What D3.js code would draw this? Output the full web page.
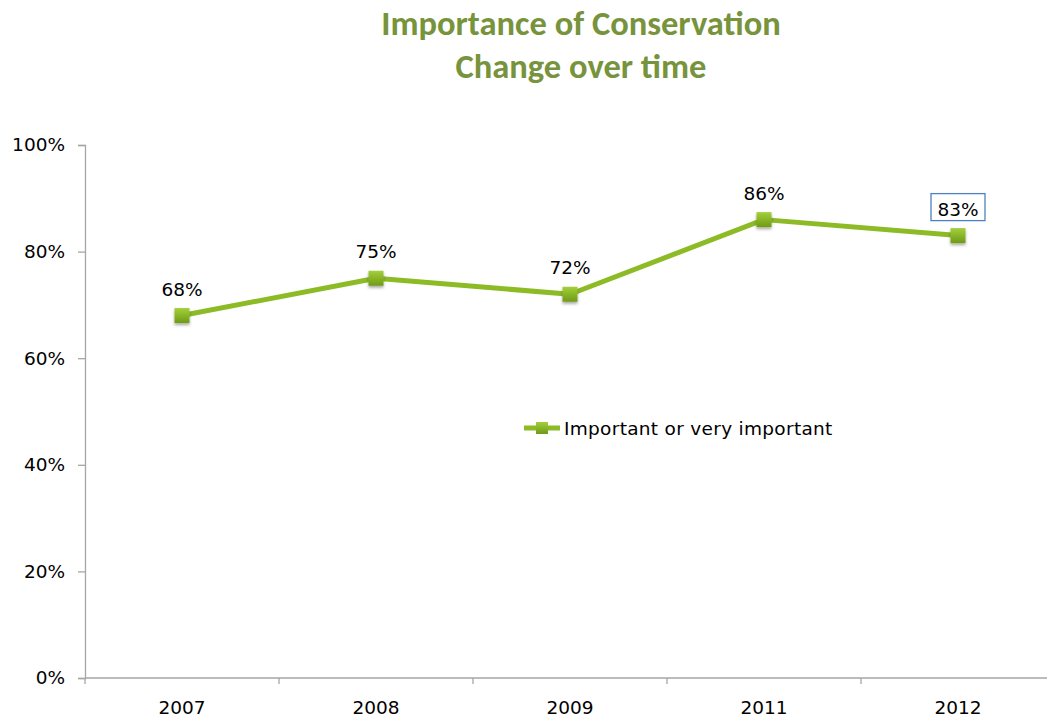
<!DOCTYPE html>
<html>
<head>
<meta charset="utf-8">
<script src="https://cdn.jsdelivr.net/npm/d3@7"></script>
<style>
  html, body { margin: 0; padding: 0; background: #fff; }
  svg { display: block; }
</style>
</head>
<body>
<svg id="chart" width="1047" height="720"></svg>
<script>
// Survey results: share answering "important or very important"
const years = ["2007", "2008", "2009", "2011", "2012"];
const importantShare = [68, 75, 72, 86, 83];
const yTicks = [0, 20, 40, 60, 80, 100];
const titleLines = ["Importance of Conservation", "Change over time"];
const seriesName = "Important or very important";

const svg = d3.select("#chart");
const plot = { left: 85, right: 1055, top: 145, bottom: 678 };

const x = d3.scaleBand().domain(years).range([plot.left, plot.right]);
const y = d3.scaleLinear().domain([0, 100]).range([plot.bottom, plot.top]);

const lineColor = "#8cbb26";
const axisColor = "#a6a6a6";
const textFont = "'DejaVu Sans', Verdana, sans-serif";
const fs = 18.5;

// marker gradient and shadow
const defs = svg.append("defs");
const grad = defs.append("linearGradient").attr("id", "mk").attr("x1", 0).attr("y1", 0).attr("x2", 0).attr("y2", 1);
grad.append("stop").attr("offset", "0%").attr("stop-color", "#a3d03a");
grad.append("stop").attr("offset", "100%").attr("stop-color", "#6f9a17");
const sh = defs.append("filter").attr("id", "shadow").attr("x", "-50%").attr("y", "-50%").attr("width", "200%").attr("height", "200%");
sh.append("feDropShadow").attr("dx", 0).attr("dy", 2).attr("stdDeviation", 1.5).attr("flood-color", "#000").attr("flood-opacity", 0.35);

// title
svg.append("g").selectAll("text").data(titleLines).join("text")
  .attr("x", 581).attr("y", (d, i) => 35 + i * 43)
  .attr("text-anchor", "middle")
  .attr("font-family", "Carlito, Lato, 'Open Sans', sans-serif")
  .attr("font-weight", 900).attr("font-size", 34.5)
  .attr("fill", "#77933c").text(d => d);

// y axis
const yAxis = svg.append("g").attr("transform", `translate(${plot.left},0)`)
  .call(d3.axisLeft(y).tickValues(yTicks).tickFormat(d => d + "%").tickSize(7).tickPadding(13));
yAxis.select(".domain").attr("stroke", axisColor).attr("stroke-width", 1.3);
yAxis.selectAll(".tick line").attr("stroke", axisColor).attr("stroke-width", 1.3);
yAxis.selectAll(".tick text").attr("font-family", textFont).attr("font-size", fs).attr("fill", "#000");

// x axis: ticks on band boundaries
const xAxisG = svg.append("g").attr("transform", `translate(0,${plot.bottom})`);
xAxisG.append("line").attr("x1", plot.left).attr("x2", plot.right)
  .attr("stroke", axisColor).attr("stroke-width", 1.3);
const bounds = years.map(d => x(d)).concat([x(years[years.length - 1]) + x.bandwidth()]);
xAxisG.selectAll("line.tk").data(bounds).join("line").attr("class", "tk")
  .attr("x1", d => d).attr("x2", d => d).attr("y1", 0).attr("y2", 6)
  .attr("stroke", axisColor).attr("stroke-width", 1.3);
xAxisG.selectAll("text").data(years).join("text")
  .attr("x", d => x(d) + x.bandwidth() / 2).attr("y", 36)
  .attr("text-anchor", "middle").attr("font-family", textFont).attr("font-size", fs)
  .attr("fill", "#000").text(d => d);

const pts = years.map((yr, i) => ({ yr, v: importantShare[i], cx: x(yr) + x.bandwidth() / 2, cy: y(importantShare[i]) }));

// series line
svg.append("path").datum(pts)
  .attr("d", d3.line().x(d => d.cx).y(d => d.cy))
  .attr("fill", "none").attr("stroke", lineColor).attr("stroke-width", 5)
  .attr("stroke-linejoin", "round");

// markers
const ms = 15;
svg.append("g").selectAll("rect").data(pts).join("rect")
  .attr("x", d => d.cx - ms / 2).attr("y", d => d.cy - ms / 2)
  .attr("width", ms).attr("height", ms)
  .attr("fill", "url(#mk)").attr("filter", "url(#shadow)");

// value labels
svg.append("g").selectAll("text").data(pts).join("text")
  .attr("x", d => d.cx).attr("y", d => d.cy - 20)
  .attr("text-anchor", "middle").attr("font-family", textFont).attr("font-size", fs)
  .attr("fill", "#000").text(d => d.v + "%");

// highlighted last label
const last = pts[pts.length - 1];
svg.append("rect")
  .attr("x", last.cx - 27).attr("y", last.cy - 42)
  .attr("width", 54).attr("height", 27)
  .attr("fill", "none").attr("stroke", "#4f81bd").attr("stroke-width", 1.3);

// legend
const lg = svg.append("g").attr("transform", "translate(524,428)");
lg.append("line").attr("x1", 0).attr("x2", 36).attr("stroke", lineColor).attr("stroke-width", 5);
lg.append("rect").attr("x", 18 - 6).attr("y", -6).attr("width", 12).attr("height", 12).attr("fill", "url(#mk)");
lg.append("text").attr("x", 40).attr("y", 7)
  .attr("font-family", textFont).attr("font-size", fs).attr("letter-spacing", 0.3)
  .attr("fill", "#000").text(seriesName);
</script>
</body>
</html>
